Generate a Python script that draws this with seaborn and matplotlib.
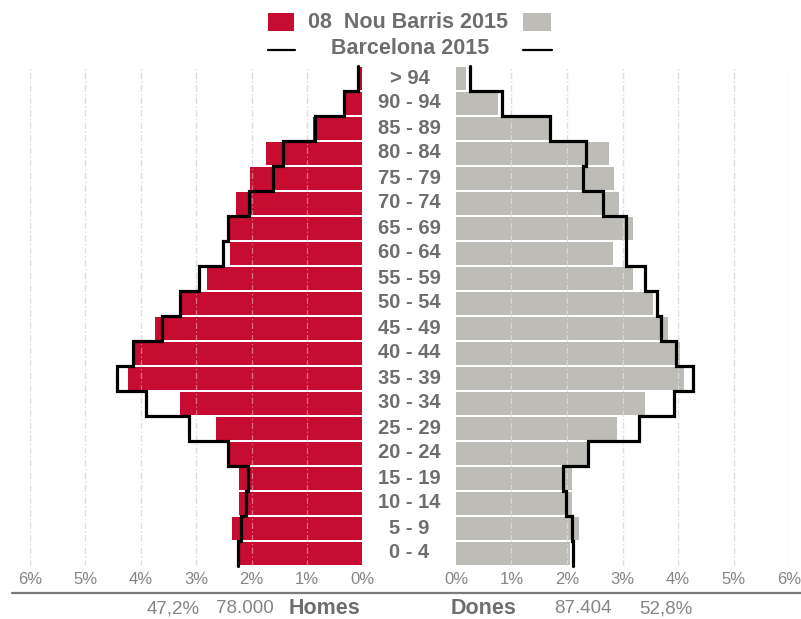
import numpy as np
import pandas as pd
import matplotlib
matplotlib.use("Agg")
import matplotlib.pyplot as plt
import matplotlib.transforms as mtransforms
from matplotlib.lines import Line2D
from matplotlib.patches import Rectangle
import seaborn as sns

# ---------------- data ----------------
age_groups = ["> 94", "90 - 94", "85 - 89", "80 - 84", "75 - 79", "70 - 74",
              "65 - 69", "60 - 64", "55 - 59", "50 - 54", "45 - 49", "40 - 44",
              "35 - 39", "30 - 34", "25 - 29", "20 - 24", "15 - 19", "10 - 14",
              "5 - 9", "0 - 4"]
homes_district = [0.06, 0.31, 0.89, 1.74, 2.03, 2.28, 2.43, 2.39, 2.81, 3.27,
                  3.74, 4.12, 4.23, 3.29, 2.64, 2.41, 2.23, 2.23, 2.35, 2.21]
dones_district = [0.18, 0.76, 1.73, 2.76, 2.84, 2.93, 3.19, 2.83, 3.19, 3.55,
                  3.82, 4.04, 4.11, 3.41, 2.90, 2.36, 2.09, 2.09, 2.22, 2.05]
homes_bcn = [0.08, 0.33, 0.86, 1.43, 1.61, 2.05, 2.43, 2.52, 2.95, 3.29,
             3.62, 4.14, 4.43, 3.91, 3.13, 2.43, 2.07, 2.10, 2.19, 2.25]
dones_bcn = [0.25, 0.83, 1.69, 2.34, 2.29, 2.65, 3.06, 3.06, 3.41, 3.62,
             3.69, 3.97, 4.27, 3.93, 3.29, 2.38, 1.93, 1.98, 2.09, 2.11]
pct_ticks = [0, 1, 2, 3, 4, 5, 6]
pct_labels = [f"{t}%" for t in pct_ticks]
legend_district = "08  Nou Barris 2015"
legend_city = "Barcelona 2015"
homes_label, homes_total, homes_share = "Homes", "78.000", "47,2%"
dones_label, dones_total, dones_share = "Dones", "87.404", "52,8%"

# ---------------- style ----------------
RED = "#C60C30"
GREY = "#BEBCB6"
TXT = "#6E6E6E"
TXT_LIGHT = "#858585"
GRID = "#C8C8C8"

sns.set_theme(style="white")
plt.rcParams["font.family"] = ["Liberation Sans", "DejaVu Sans"]

W, H = 801, 619
fig = plt.figure(figsize=(W / 100, H / 100), dpi=100)
fig.patch.set_facecolor("white")

def fx(px):
    return px / W

def fy(py):
    return 1 - py / H

top_px, bot_px = 65.5, 565.5
ax_l = fig.add_axes([fx(30), fy(bot_px), fx(362.4) - fx(30), fy(top_px) - fy(bot_px)])
ax_r = fig.add_axes([fx(456), fy(bot_px), fx(789) - fx(456), fy(top_px) - fy(bot_px)])

df = pd.DataFrame({"age": age_groups, "homes": homes_district, "dones": dones_district,
                   "homes_bcn": homes_bcn, "dones_bcn": dones_bcn})

sns.barplot(data=df, x="homes", y="age", order=age_groups, orient="h", color=RED,
            saturation=1, width=0.92, ax=ax_l, zorder=2, linewidth=0)
sns.barplot(data=df, x="dones", y="age", order=age_groups, orient="h", color=GREY,
            saturation=1, width=0.92, ax=ax_r, zorder=2, linewidth=0)

n = len(age_groups)

def outline(ax, vals):
    xs, ys = [], []
    for i, v in enumerate(vals):
        xs += [v, v]
        ys += [i - 0.5, i + 0.5]
    ax.plot(xs, ys, color="black", lw=2.3, solid_joinstyle="miter", zorder=4,
            clip_on=False)

outline(ax_l, homes_bcn)
outline(ax_r, dones_bcn)

for ax, xl in ((ax_l, (6, 0)), (ax_r, (0, 6))):
    ax.set_xlim(*xl)
    ax.set_ylim(n - 0.5, -0.5)
    ax.set_xticks(pct_ticks)
    ax.set_xticklabels(pct_labels, color=TXT_LIGHT, fontsize=12)
    ax.tick_params(axis="x", length=0, pad=5)
    ax.set_yticks([])
    ax.set_xlabel("")
    ax.set_ylabel("")
    for s in ax.spines.values():
        s.set_visible(False)
    ax.set_facecolor("none")
    for t in pct_ticks[1:]:
        ax.axvline(t, color=GRID, lw=0.9, ls=(0, (5, 2, 1, 2)), zorder=1)
        ax.axvline(t, color="white", lw=0.9, alpha=0.4, ls=(0, (5, 2, 1, 2)), zorder=3)

# age labels in the middle
trans = mtransforms.blended_transform_factory(fig.transFigure, ax_l.transData)
for i, lab in enumerate(age_groups):
    ax_l.text(fx(409.5), i, lab, transform=trans, ha="center", va="center",
              fontsize=14.5, fontweight="bold", color=TXT, clip_on=False)

# legend (custom, centred)
fig.patches.append(Rectangle((fx(268), fy(31)), fx(294) - fx(268), fy(13) - fy(31),
                             transform=fig.transFigure, facecolor=RED, edgecolor="none"))
fig.patches.append(Rectangle((fx(523), fy(31)), fx(551) - fx(523), fy(13) - fy(31),
                             transform=fig.transFigure, facecolor=GREY, edgecolor="none"))
fig.text(fx(408), fy(22), legend_district, ha="center", va="center",
         fontsize=15.5, fontweight="bold", color=TXT)
fig.text(fx(410), fy(48.5), legend_city, ha="center", va="center",
         fontsize=15.5, fontweight="bold", color=TXT)
fig.add_artist(Line2D([fx(268), fx(295)], [fy(50), fy(50)], color="black", lw=1.6,
                      transform=fig.transFigure))
fig.add_artist(Line2D([fx(523), fx(552)], [fy(50), fy(50)], color="black", lw=1.6,
                      transform=fig.transFigure))

# bottom separator
fig.add_artist(Line2D([fx(12), fx(801)], [fy(593), fy(593)], color="#7A7A7A", lw=1.6,
                      transform=fig.transFigure))

# bottom totals
yb = fy(608.5)
fig.text(fx(173), yb, homes_share, ha="center", va="center", fontsize=13.5, color=TXT_LIGHT)
fig.text(fx(245), yb, homes_total, ha="center", va="center", fontsize=13.5, color=TXT_LIGHT)
fig.text(fx(325), yb, homes_label, ha="center", va="center", fontsize=15.5,
         fontweight="bold", color=TXT)
fig.text(fx(484), yb, dones_label, ha="center", va="center", fontsize=15.5,
         fontweight="bold", color=TXT)
fig.text(fx(583), yb, dones_total, ha="center", va="center", fontsize=13.5, color=TXT_LIGHT)
fig.text(fx(666), yb, dones_share, ha="center", va="center", fontsize=13.5, color=TXT_LIGHT)

fig.savefig("out.png", dpi=100, facecolor="white")
